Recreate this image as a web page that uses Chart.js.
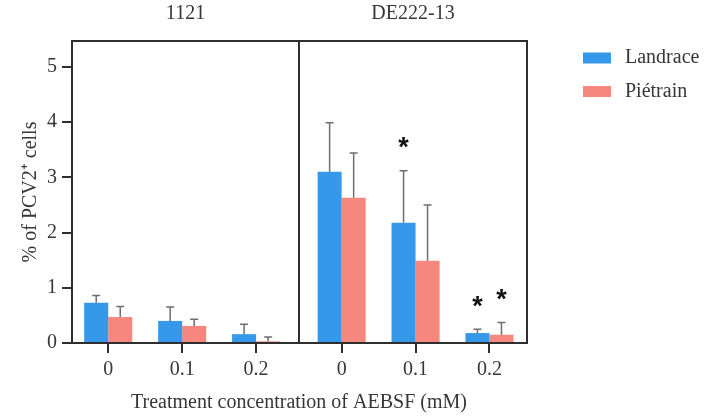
<!DOCTYPE html>
<html>
<head>
<meta charset="utf-8">
<script src="https://cdn.jsdelivr.net/npm/chart.js@4.4.1/dist/chart.umd.min.js"></script>
<style>
  html, body { margin: 0; padding: 0; background: #fff; }
  #wrap { position: relative; width: 721px; height: 417px; }
  #wrap canvas { position: absolute; left: 0; top: 0; }
</style>
</head>
<body>
<div id="wrap">
  <canvas id="chartDE" width="721" height="417"></canvas>
  <canvas id="chart1121" width="721" height="417"></canvas>
</div>
<script>
// values (mean and upper SD)
const doses = ['0', '0.1', '0.2'];
const yTicks = [0, 1, 2, 3, 4, 5];

const landrace1121 = [0.73, 0.40, 0.16];
const landrace1121Sd = [0.13, 0.25, 0.18];
const pietrain1121 = [0.47, 0.31, 0.03];
const pietrain1121Sd = [0.19, 0.12, 0.08];

const landraceDE = [3.10, 2.18, 0.18];
const landraceDESd = [0.89, 0.94, 0.07];
const pietrainDE = [2.63, 1.49, 0.15];
const pietrainDESd = [0.81, 1.01, 0.22];
const landraceDESig = ['', '*', '*'];
const pietrainDESig = ['', '', '*'];

const BLUE = '#3598e8';
const PINK = '#f6877f';
const TEXT = '#363636';
const AXIS = '#2e2e2e';
const SERIF = '"Liberation Serif", "Times New Roman", serif';
const Y_MAX = 5.47;

Chart.defaults.font.family = SERIF;
Chart.defaults.font.size = 20;
Chart.defaults.color = TEXT;

// upper error whiskers + significance stars
const errorBars = {
  id: 'errorBars',
  afterDatasetsDraw(chart) {
    const ctx = chart.ctx;
    const y = chart.scales.y;
    ctx.save();
    chart.data.datasets.forEach((ds, di) => {
      chart.getDatasetMeta(di).data.forEach((bar, i) => {
        const top = y.getPixelForValue(ds.data[i] + ds.sd[i]);
        ctx.strokeStyle = '#6e6e6e';
        ctx.lineWidth = 1.5;
        ctx.beginPath();
        ctx.moveTo(bar.x, bar.y);
        ctx.lineTo(bar.x, top);
        ctx.moveTo(bar.x - 4, top);
        ctx.lineTo(bar.x + 4, top);
        ctx.stroke();
        if (ds.sig && ds.sig[i]) {
          ctx.fillStyle = '#111';
          ctx.font = 'bold 27px "Liberation Sans"';
          ctx.textAlign = 'center';
          ctx.textBaseline = 'middle';
          ctx.fillText(ds.sig[i], bar.x, top - 22);
        }
      });
    });
    ctx.restore();
  }
};

const frame = {
  id: 'frame',
  afterDraw(chart) {
    const a = chart.chartArea;
    const ctx = chart.ctx;
    ctx.save();
    ctx.strokeStyle = AXIS;
    ctx.lineWidth = 2;
    ctx.strokeRect(a.left, a.top, a.right - a.left, a.bottom - a.top);
    ctx.restore();
  }
};

// shared x title, centred under the panel divider
const xTitle = {
  id: 'xTitle',
  afterDraw(chart) {
    const ctx = chart.ctx;
    ctx.save();
    ctx.fillStyle = TEXT;
    ctx.font = '20px ' + SERIF;
    ctx.textAlign = 'center';
    ctx.textBaseline = 'middle';
    ctx.fillText('Treatment concentration of AEBSF (mM)', chart.chartArea.right, chart.chartArea.bottom + 60);
    ctx.restore();
  }
};

const sideLegend = {
  id: 'sideLegend',
  afterDraw(chart) {
    const ctx = chart.ctx;
    const x = chart.chartArea.right + 56;
    let y = chart.chartArea.top + 17;
    ctx.save();
    ctx.font = '20px ' + SERIF;
    ctx.textAlign = 'left';
    ctx.textBaseline = 'middle';
    chart.data.datasets.forEach(ds => {
      ctx.fillStyle = ds.backgroundColor;
      ctx.fillRect(x, y - 5.5, 28, 11);
      ctx.fillStyle = TEXT;
      ctx.fillText(ds.label, x + 42, y);
      y += 33.5;
    });
    ctx.restore();
  }
};

function xAxis(start, range) {
  return {
    afterBuildTicks: s => { s._startValue = start; s._valueRange = range; },
    afterFit: s => { s.height = 74; },
    border: { color: AXIS, width: 2 },
    grid: { offset: false, drawOnChartArea: false, tickLength: 10, color: AXIS, lineWidth: 2 },
    ticks: { color: TEXT, padding: 5 }
  };
}

function panelTitle(text) {
  return {
    display: true, text: text, fullSize: false, color: TEXT,
    font: { size: 20, weight: 'normal' },
    padding: { top: 2, bottom: 15 }
  };
}

const barStyle = { borderWidth: 0, categoryPercentage: 0.65, barPercentage: 1 };

new Chart(document.getElementById('chart1121'), {
  type: 'bar',
  data: {
    labels: doses,
    datasets: [
      { label: 'Landrace', data: landrace1121, sd: landrace1121Sd, backgroundColor: BLUE, ...barStyle },
      { label: 'Piétrain', data: pietrain1121, sd: pietrain1121Sd, backgroundColor: PINK, ...barStyle }
    ]
  },
  options: {
    responsive: false,
    animation: false,
    layout: { padding: { left: 0, right: 422, top: 0, bottom: 0 } },
    plugins: { legend: { display: false }, tooltip: { enabled: false }, title: panelTitle('1121') },
    scales: {
      x: xAxis(-0.49, 3.07),
      y: {
        min: 0, max: Y_MAX,
        afterBuildTicks: s => { s.ticks = yTicks.map(v => ({ value: v })); },
        afterFit: s => { s.width = 72; },
        border: { color: AXIS, width: 2 },
        grid: { drawOnChartArea: false, tickLength: 10, color: AXIS, lineWidth: 2 },
        ticks: { color: TEXT, padding: 5 },
        title: { display: true, text: '% of PCV2⁺ cells', color: TEXT, font: { size: 20 }, padding: { top: 19, bottom: 0 } }
      }
    }
  },
  plugins: [errorBars, frame, xTitle]
});

new Chart(document.getElementById('chartDE'), {
  type: 'bar',
  data: {
    labels: doses,
    datasets: [
      { label: 'Landrace', data: landraceDE, sd: landraceDESd, sig: landraceDESig, backgroundColor: BLUE, ...barStyle },
      { label: 'Piétrain', data: pietrainDE, sd: pietrainDESd, sig: pietrainDESig, backgroundColor: PINK, ...barStyle }
    ]
  },
  options: {
    responsive: false,
    animation: false,
    layout: { padding: { left: 299, right: 194, top: 0, bottom: 0 } },
    plugins: { legend: { display: false }, tooltip: { enabled: false }, title: panelTitle('DE222-13') },
    scales: {
      x: xAxis(-0.577, 3.085),
      y: { display: false, min: 0, max: Y_MAX }
    }
  },
  plugins: [errorBars, frame, sideLegend]
});
</script>
</body>
</html>
